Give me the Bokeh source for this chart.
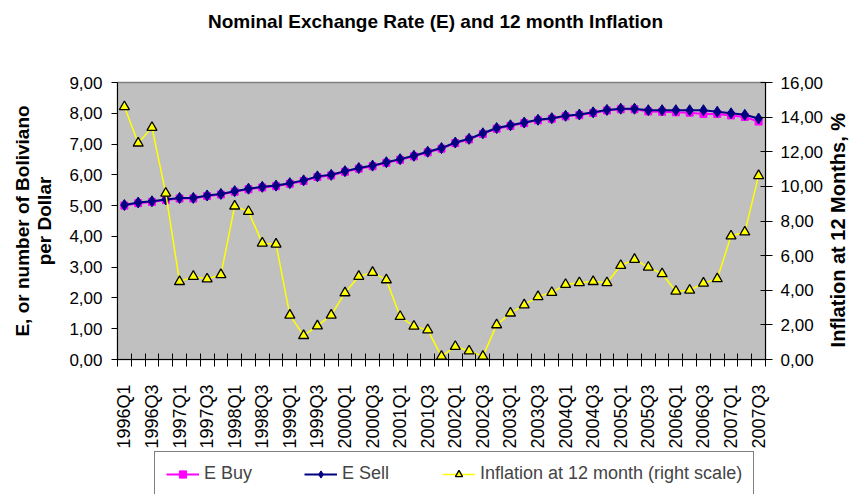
import math
from bokeh.plotting import figure
from bokeh.layouts import column
from bokeh.models import Range1d, LinearAxis, FixedTicker, Legend, LegendItem, ColumnDataSource, Label
from bokeh.embed import file_html
from bokeh.resources import INLINE

quarters = ["1996Q1", "1996Q2", "1996Q3", "1996Q4", "1997Q1", "1997Q2", "1997Q3", "1997Q4",
            "1998Q1", "1998Q2", "1998Q3", "1998Q4", "1999Q1", "1999Q2", "1999Q3", "1999Q4",
            "2000Q1", "2000Q2", "2000Q3", "2000Q4", "2001Q1", "2001Q2", "2001Q3", "2001Q4",
            "2002Q1", "2002Q2", "2002Q3", "2002Q4", "2003Q1", "2003Q2", "2003Q3", "2003Q4",
            "2004Q1", "2004Q2", "2004Q3", "2004Q4", "2005Q1", "2005Q2", "2005Q3", "2005Q4",
            "2006Q1", "2006Q2", "2006Q3", "2006Q4", "2007Q1", "2007Q2", "2007Q3"]

e_buy = [5.00, 5.08, 5.12, 5.18, 5.23, 5.23, 5.31, 5.36, 5.45, 5.53, 5.59, 5.63,
         5.71, 5.80, 5.93, 5.98, 6.10, 6.20, 6.28, 6.39, 6.49, 6.60, 6.73, 6.85,
         7.03, 7.15, 7.33, 7.50, 7.59, 7.68, 7.77, 7.82, 7.90, 7.94, 8.01, 8.09,
         8.13, 8.13, 8.06, 8.05, 8.03, 8.02, 7.98, 7.98, 7.93, 7.88, 7.73]

e_sell = [5.02, 5.10, 5.14, 5.20, 5.25, 5.25, 5.33, 5.38, 5.47, 5.55, 5.61, 5.65,
          5.73, 5.82, 5.95, 6.00, 6.12, 6.22, 6.30, 6.41, 6.51, 6.62, 6.75, 6.87,
          7.05, 7.17, 7.35, 7.52, 7.61, 7.70, 7.79, 7.84, 7.92, 7.96, 8.03, 8.11,
          8.15, 8.15, 8.10, 8.10, 8.10, 8.10, 8.10, 8.05, 8.00, 7.95, 7.83]

inflation = [14.60, 12.50, 13.40, 9.60, 4.50, 4.80, 4.65, 4.90, 8.86, 8.55, 6.72, 6.66,
             2.56, 1.38, 1.94, 2.56, 3.85, 4.80, 5.03, 4.60, 2.48, 1.92, 1.71, 0.18,
             0.75, 0.49, 0.18, 2.00, 2.68, 3.15, 3.63, 3.87, 4.33, 4.43, 4.50, 4.43,
             5.43, 5.78, 5.33, 4.95, 3.94, 4.00, 4.41, 4.66, 7.13, 7.36, 10.62]

left_ticks = [0, 1, 2, 3, 4, 5, 6, 7, 8, 9]
left_tick_labels = ["0,00", "1,00", "2,00", "3,00", "4,00", "5,00", "6,00", "7,00", "8,00", "9,00"]
right_ticks = [0, 2, 4, 6, 8, 10, 12, 14, 16]
right_tick_labels = ["0,00", "2,00", "4,00", "6,00", "8,00", "10,00", "12,00", "14,00", "16,00"]

title_text = "Nominal Exchange Rate (E) and 12 month Inflation"
left_title = "E, or number of Boliviano\nper Dollar"
right_title = "Inflation at 12 Months, %"

FONT = "Liberation Sans"
W = 863

# ---- title strip ----
pt = figure(width=W, height=42, output_backend="svg", toolbar_location=None,
            x_range=Range1d(0, 1), y_range=Range1d(0, 1),
            x_axis_type=None, y_axis_type=None, min_border=0,
            background_fill_color="white", border_fill_color="white")
pt.outline_line_color = None
pt.grid.visible = False
pt.add_layout(Label(x=0.5, y=0.5, x_offset=-6, text=title_text,
                    text_align="center", text_baseline="middle", text_font=FONT,
                    text_font_size="19px", text_font_style="bold", text_color="black"))

# ---- main chart ----
xs = list(range(len(quarters)))
src = ColumnDataSource(dict(x=xs, q=quarters, buy=e_buy, sell=e_sell, infl=inflation))

p = figure(width=W, height=409, output_backend="svg", toolbar_location=None,
           x_range=Range1d(-0.5, len(quarters) - 0.5), y_range=Range1d(0, 9),
           min_border_left=117, min_border_right=93, min_border_top=40, min_border_bottom=92,
           background_fill_color="#C0C0C0", border_fill_color="white")
p.extra_y_ranges = {"infl": Range1d(0, 16)}
p.grid.visible = False
p.outline_line_color = "#808080"
p.outline_line_width = 1.5

xa = p.xaxis[0]
xa.ticker = FixedTicker(ticks=xs[::2], minor_ticks=[i - 0.5 for i in range(len(quarters) + 1)])
xa.major_label_overrides = {i: quarters[i] for i in xs[::2]}
xa.major_label_orientation = math.pi / 2
xa.major_tick_out = 0
xa.major_tick_in = 0
xa.minor_tick_in = 6
xa.minor_tick_out = 7
xa.minor_tick_line_color = "black"
xa.axis_line_color = "black"
xa.major_label_standoff = 18
xa.major_label_text_font = FONT
xa.major_label_text_font_size = "18px"
xa.major_label_text_color = "black"

ya = p.yaxis[0]
ya.ticker = FixedTicker(ticks=left_ticks)
ya.major_label_overrides = dict(zip(left_ticks, left_tick_labels))
ya.minor_tick_line_color = None
ya.major_tick_out = 6
ya.major_tick_in = 0
ya.major_label_standoff = 9
ya.major_label_text_font = FONT
ya.major_label_text_font_size = "17px"
ya.major_label_text_color = "black"
ya.axis_label = left_title
ya.axis_label_text_font = FONT
ya.axis_label_text_font_size = "19px"
ya.axis_label_text_font_style = "bold"
ya.axis_label_text_color = "black"
ya.axis_label_text_line_height = 1.05
ya.axis_label_standoff = 11
ya.axis_line_color = "black"

yr = LinearAxis(y_range_name="infl", ticker=FixedTicker(ticks=right_ticks),
                major_label_overrides=dict(zip(right_ticks, right_tick_labels)))
yr.minor_tick_line_color = None
yr.major_tick_out = 7
yr.major_tick_in = 5
yr.major_label_standoff = 8
yr.major_label_text_font = FONT
yr.major_label_text_font_size = "17px"
yr.major_label_text_color = "black"
yr.axis_line_color = "black"
p.add_layout(yr, "right")

# right-hand axis title, read bottom to top: a label-only axis whose single
# tick sits where the title starts
title_start = 0.7
yt = LinearAxis(y_range_name="infl", ticker=FixedTicker(ticks=[title_start]),
                major_label_overrides={title_start: right_title},
                major_label_orientation=math.pi / 2)
yt.axis_line_color = None
yt.major_tick_line_color = None
yt.minor_tick_line_color = None
yt.major_tick_out = 0
yt.major_tick_in = 0
yt.major_label_standoff = 12
yt.major_label_text_font = FONT
yt.major_label_text_font_size = "20px"
yt.major_label_text_font_style = "bold"
yt.major_label_text_color = "black"
p.add_layout(yt, "right")

BUY = dict(line_color="#FF00FF", line_width=2)
BUY_M = dict(marker="square", size=7, fill_color="#FF00FF", line_color="#FF00FF")
SELL = dict(line_color="#000080", line_width=2)
SELL_M = dict(marker="diamond", size=11, fill_color="#000080", line_color="#000080")
INF = dict(line_color="#FFFF00", line_width=1.5)
INF_M = dict(marker="triangle", size=10, fill_color="#FFFF00", line_color="black", line_width=1.3)

p.line("x", "buy", source=src, **BUY)
p.scatter("x", "buy", source=src, **BUY_M)
p.line("x", "sell", source=src, **SELL)
p.scatter("x", "sell", source=src, **SELL_M)
p.line("x", "infl", source=src, y_range_name="infl", **INF)
p.scatter("x", "infl", source=src, y_range_name="infl", **INF_M)

# ---- legend strip (its renderers look at a range where no data lies) ----
pl = figure(width=W, height=43, output_backend="svg", toolbar_location=None,
            x_range=Range1d(-100, -99), y_range=Range1d(-100, -99),
            x_axis_type=None, y_axis_type=None, min_border=0,
            background_fill_color="white", border_fill_color="white")
pl.outline_line_color = None
pl.grid.visible = False
lb = pl.line("x", "buy", source=src, **BUY)
lbm = pl.scatter("x", "buy", source=src, **BUY_M)
ls = pl.line("x", "sell", source=src, **SELL)
lsm = pl.scatter("x", "sell", source=src, **SELL_M)
li = pl.line("x", "infl", source=src, **INF)
lim = pl.scatter("x", "infl", source=src, **INF_M)

legend = Legend(items=[LegendItem(label="E Buy", renderers=[lb, lbm]),
                       LegendItem(label="E Sell", renderers=[ls, lsm]),
                       LegendItem(label="Inflation at 12 month (right scale)", renderers=[li, lim])],
                orientation="horizontal", location=(37, -2),
                glyph_width=33, glyph_height=18, label_standoff=5, label_width=100, label_height=18,
                spacing=0, padding=11, margin=0,
                border_line_color="black", border_line_width=1,
                background_fill_color="white", background_fill_alpha=1.0,
                label_text_font=FONT, label_text_font_size="18px")
pl.add_layout(legend, "center")

layout = column(pt, p, pl, spacing=0)
open("out.html", "w").write(file_html(layout, INLINE))
